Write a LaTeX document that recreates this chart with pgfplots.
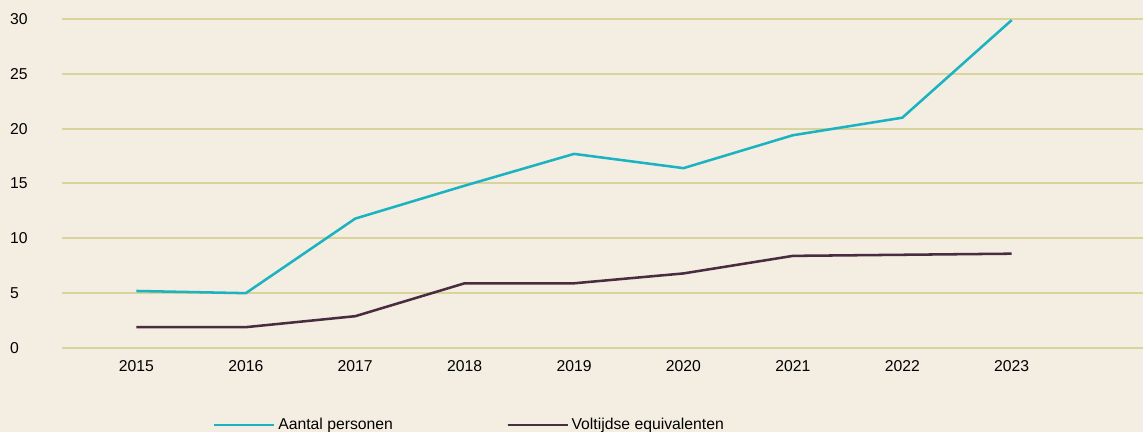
\documentclass[border=0pt]{standalone}
\usepackage{fontspec}
\setmainfont{Liberation Sans}
\usepackage{pgfplots}
\pgfplotsset{compat=1.18}
\definecolor{bg}{HTML}{F3EDE2}
\definecolor{gridc}{HTML}{D8D49C}
\definecolor{cyanl}{HTML}{1BB3C1}
\definecolor{darkl}{HTML}{4A2C40}
\newcommand{\lblfont}{\fontsize{11.8pt}{14pt}\selectfont}
\begin{document}
\begin{tikzpicture}
\fill[bg] (0,0) rectangle (857.25pt,324pt);
\useasboundingbox (0,0) rectangle (857.25pt,324pt);
\begin{axis}[
  at={(46.5pt,63pt)}, anchor=south west,
  scale only axis, width=810.75pt, height=246.75pt,
  xmin=2014.32, xmax=2024.2, ymin=0, ymax=30,
  axis line style={draw=none},
  major tick length=0pt,
  xtick={2015,2016,...,2023},
  ytick={0,5,...,30},
  ymajorgrids,
  grid style={gridc, line width=1.5pt},
  /pgf/number format/assume math mode=true,
  /pgf/number format/1000 sep={},
  ticklabel style={font=\lblfont},
  xticklabel style={yshift=-6pt},
  yticklabel style={anchor=west, xshift=-42.5pt},
  legend style={at={(0.1397,-0.234)}, anchor=west, draw=none, fill=none,
    inner sep=0pt, outer sep=0pt, font=\lblfont,
    /tikz/every even column/.append style={column sep=83pt}},
  legend columns=2,
  legend image code/.code={\draw[#1, line width=2.1pt] (0pt,0pt) -- (42pt,0pt); \path (0pt,0pt) -- (45pt,0pt);},
  clip=false,
]
\addplot[cyanl, line width=1.9pt] coordinates {
(2015,5.2) (2016,5.0) (2017,11.8) (2018,14.8) (2019,17.7) (2020,16.4) (2021,19.4) (2022,21.0) (2023,29.9)};
\addlegendentry{Aantal personen}
\addplot[darkl, line width=1.9pt] coordinates {
(2015,1.9) (2016,1.9) (2017,2.9) (2018,5.9) (2019,5.9) (2020,6.8) (2021,8.4) (2022,8.5) (2023,8.6)};
\addlegendentry{Voltijdse equivalenten}
\end{axis}
\end{tikzpicture}
\end{document}
